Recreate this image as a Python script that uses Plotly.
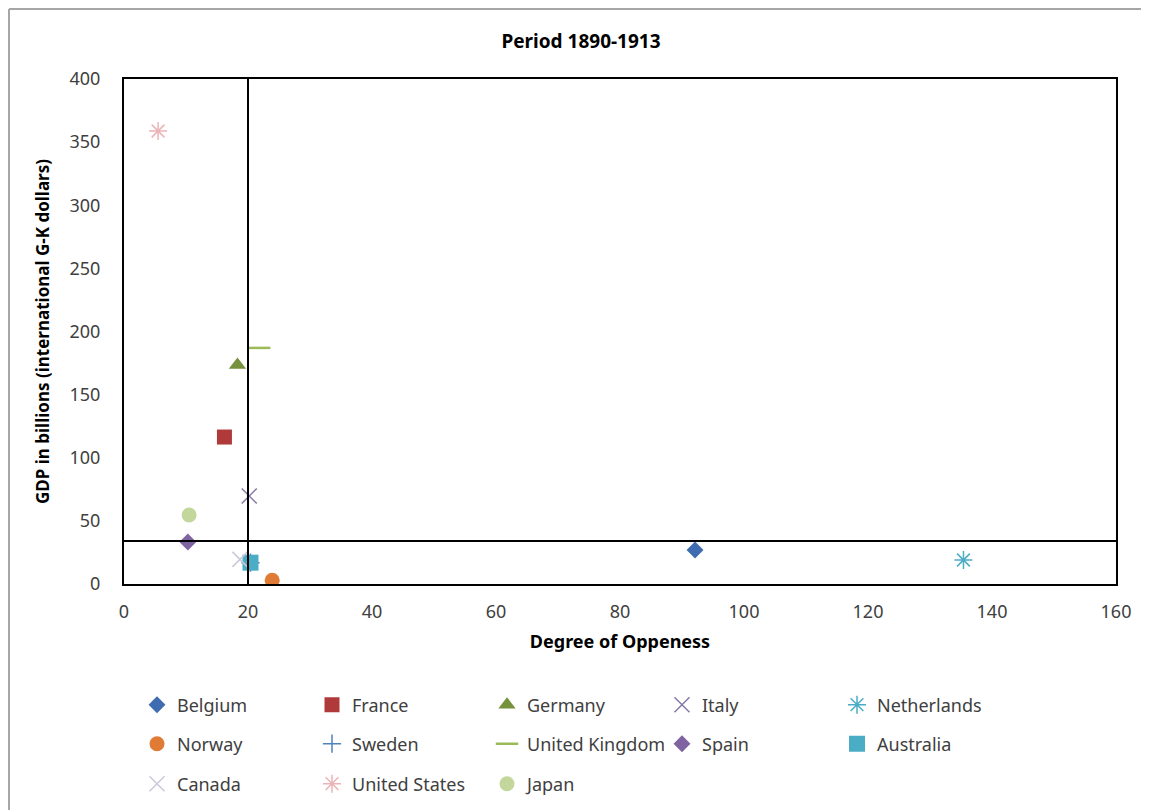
import plotly.graph_objects as go

countries = ["Belgium", "France", "Germany", "Italy", "Netherlands",
             "Norway", "Sweden", "United Kingdom", "Spain", "Australia",
             "Canada", "United States", "Japan"]
openness = [92.1, 16.2, 18.3, 20.2, 135.4, 23.9, 20.4, 21.8, 10.3, 20.4, 18.7, 5.5, 10.5]
gdp = [26.9, 116.4, 173.5, 69.7, 19.0, 3.0, 16.9, 187.0, 33.3, 16.9, 19.5, 358.8, 54.7]

ref_openness = 20.0
ref_gdp = 34.0

symbols = ["diamond", "square", "triangle-up", "x-thin-open", "asterisk-open",
           "circle", "cross-thin-open", "line-ew-open", "diamond", "square",
           "x-thin-open", "asterisk-open", "circle"]
colors = ["#3F6CB0", "#B03A3A", "#76923C", "#8579A8", "#4BACC6",
          "#E07B35", "#4F81BD", "#9BBB59", "#8064A2", "#4BACC6",
          "#C9CAD9", "#EBB4B8", "#C3D69B"]
sizes = [13, 15, 15, 15, 15, 15, 13, 16, 13, 16, 15, 15, 15]

OFF = 8  # page body margin
W, H = 1149 - OFF, 810 - OFF
ml, mr, mt, mb = 124 - OFF, 33, 79 - OFF, 226
pw, ph = W - ml - mr, H - mt - mb

FONT = "Noto Sans"

fig = go.Figure()
legend_names = ["legend", "legend2", "legend3"]
for i, c in enumerate(countries):
    open_sym = symbols[i].endswith("-open")
    fig.add_trace(go.Scatter(
        x=[openness[i]], y=[gdp[i]], mode="markers", name=c,
        legend=legend_names[i // 5],
        marker=dict(symbol=symbols[i], size=sizes[i], color=colors[i],
                    line=dict(color=colors[i], width=(2.5 if symbols[i] == "line-ew-open" else 1.5) if open_sym else 0)),
        hoverinfo="x+y+name",
    ))

# reference lines
fig.add_shape(type="line", xref="x", yref="y", x0=ref_openness, x1=ref_openness, y0=0, y1=400,
              line=dict(color="black", width=2))
fig.add_shape(type="line", xref="x", yref="y", x0=0, x1=160, y0=ref_gdp, y1=ref_gdp,
              line=dict(color="black", width=2))

# outer chart border: top and left edges only
px_x = lambda p: (p - ml) / pw
px_y = lambda p: (H - mb - p) / ph
fig.add_shape(type="line", xref="paper", yref="paper",
              x0=px_x(1), x1=px_x(W), y0=px_y(1), y1=px_y(1),
              line=dict(color="#A6A6A6", width=2), layer="below")
fig.add_shape(type="line", xref="paper", yref="paper",
              x0=px_x(1), x1=px_x(1), y0=px_y(1), y1=px_y(H),
              line=dict(color="#A6A6A6", width=2), layer="below")

legend_common = dict(orientation="h", xref="container", yref="container",
                     xanchor="left", yanchor="middle", entrywidth=130, entrywidthmode="pixels",
                     itemwidth=30, font=dict(family=FONT, size=18, color="#404040"),
                     bgcolor="rgba(0,0,0,0)", traceorder="normal")
row_y = [705 - OFF, 744 - OFF, 784 - OFF]
leg_x = 129 / W

fig.update_layout(
    width=W, height=H,
    margin=dict(l=ml, r=mr, t=mt, b=mb),
    paper_bgcolor="white", plot_bgcolor="white",
    font=dict(family=FONT, color="#404040"),
    title=dict(text="<b>Period 1890-1913</b>", xref="container", x=(581 - OFF) / W, xanchor="center",
               yref="container", y=1 - (41 - OFF) / H, yanchor="middle",
               font=dict(family=FONT, size=19, color="black")),
    xaxis=dict(range=[0, 160], dtick=20, showgrid=False, zeroline=False,
               showline=True, linecolor="black", linewidth=2, mirror=True,
               ticks="", ticklabelstandoff=10,
               tickfont=dict(family=FONT, size=18, color="#404040"),
               title=dict(text="<b>Degree of Oppeness</b>", standoff=14,
                          font=dict(family=FONT, size=18, color="black"))),
    yaxis=dict(range=[0, 400], dtick=50, showgrid=False, zeroline=False,
               showline=True, linecolor="black", linewidth=2, mirror=True,
               ticks="", ticklabelstandoff=18,
               tickfont=dict(family=FONT, size=18, color="#404040"),
               title=dict(text="<b>GDP in billions (international G-K dollars)</b>", standoff=16,
                          font=dict(family=FONT, size=17, color="black"))),
    legend=dict(x=leg_x, y=1 - row_y[0] / H, **legend_common),
    legend2=dict(x=leg_x, y=1 - row_y[1] / H, **legend_common),
    legend3=dict(x=leg_x, y=1 - row_y[2] / H, **legend_common),
)

fig.write_html("out.html")
